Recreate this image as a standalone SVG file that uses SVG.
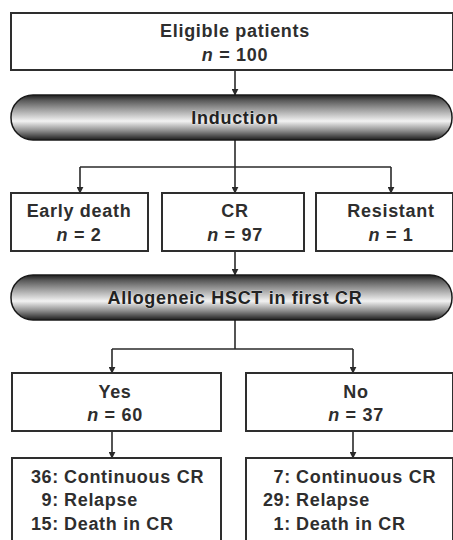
<svg xmlns="http://www.w3.org/2000/svg" width="453" height="540" viewBox="0 0 453 540">
<defs>
<linearGradient id="metal" x1="0" y1="0" x2="0" y2="1">
<stop offset="0" stop-color="#1e1e1e"/>
<stop offset="0.12" stop-color="#5a5a5a"/>
<stop offset="0.35" stop-color="#a8a8a8"/>
<stop offset="0.58" stop-color="#f2f2f2"/>
<stop offset="0.8" stop-color="#8a8a8a"/>
<stop offset="1" stop-color="#1e1e1e"/>
</linearGradient>
<marker id="arr" viewBox="0 0 10 10" refX="9" refY="5" markerWidth="7" markerHeight="7" markerUnits="userSpaceOnUse" orient="auto">
<path d="M0,0 L10,5 L0,10 z" fill="#2a2a2a"/>
</marker>
</defs>
<style>
.box{fill:#fff;stroke:#2e2e2e;stroke-width:2}
.pill{fill:url(#metal);stroke:#1a1a1a;stroke-width:1.5}
text{font-family:"Liberation Sans",Arial,sans-serif;font-weight:bold;font-size:18px;fill:#2e2e2e;letter-spacing:0.7px}
.c{text-anchor:middle}
.e{text-anchor:end}
.pt{fill:#222;stroke:#eee;stroke-width:0.6;paint-order:stroke}
.ln{fill:none;stroke:#2a2a2a;stroke-width:1.6}
</style>
<rect width="453" height="540" fill="#fff"/>
<g id="connectors">
<path class="ln" d="M235,70 V95" marker-end="url(#arr)"/>
<path class="ln" d="M235,140 V167"/>
<path class="ln" d="M80,167 H391"/>
<path class="ln" d="M80,167 V193" marker-end="url(#arr)"/>
<path class="ln" d="M235,167 V193" marker-end="url(#arr)"/>
<path class="ln" d="M391,167 V193" marker-end="url(#arr)"/>
<path class="ln" d="M235,251 V275" marker-end="url(#arr)"/>
<path class="ln" d="M235,320 V349"/>
<path class="ln" d="M112,349 H353"/>
<path class="ln" d="M112,349 V373" marker-end="url(#arr)"/>
<path class="ln" d="M353,349 V373" marker-end="url(#arr)"/>
<path class="ln" d="M112,431 V458" marker-end="url(#arr)"/>
<path class="ln" d="M353,431 V458" marker-end="url(#arr)"/>
</g>
<g id="eligible">
<rect class="box" x="11" y="13" width="442" height="57"/>
<text class="c" x="235" y="37">Eligible patients</text>
<text class="c" x="235" y="61"><tspan font-style="italic">n</tspan> = 100</text>
</g>
<g id="induction">
<rect class="pill" x="11" y="95" width="441" height="45" rx="22" ry="22"/>
<text class="c pt" x="235" y="124">Induction</text>
</g>
<g id="early-death">
<rect class="box" x="11" y="193" width="137" height="58"/>
<text class="c" x="79" y="217">Early death</text>
<text class="c" x="79" y="241"><tspan font-style="italic">n</tspan> = 2</text>
</g>
<g id="cr">
<rect class="box" x="162" y="193" width="142" height="58"/>
<text class="c" x="235" y="217">CR</text>
<text class="c" x="235" y="241"><tspan font-style="italic">n</tspan> = 97</text>
</g>
<g id="resistant">
<rect class="box" x="316" y="193" width="137" height="58"/>
<text class="c" x="391" y="217">Resistant</text>
<text class="c" x="391" y="241"><tspan font-style="italic">n</tspan> = 1</text>
</g>
<g id="hsct">
<rect class="pill" x="11" y="275" width="441" height="45" rx="22" ry="22"/>
<text class="c pt" x="235" y="304">Allogeneic HSCT in first CR</text>
</g>
<g id="yes">
<rect class="box" x="12" y="373" width="209" height="58"/>
<text class="c" x="115" y="398">Yes</text>
<text class="c" x="115" y="421"><tspan font-style="italic">n</tspan> = 60</text>
</g>
<g id="no">
<rect class="box" x="246" y="373" width="207" height="58"/>
<text class="c" x="356" y="398">No</text>
<text class="c" x="356" y="421"><tspan font-style="italic">n</tspan> = 37</text>
</g>
<g id="yes-outcome">
<rect class="box" x="12" y="458" width="209" height="90"/>
<text class="e" x="59" y="483">36:</text><text x="64" y="483">Continuous CR</text>
<text class="e" x="59" y="506">9:</text><text x="64" y="506">Relapse</text>
<text class="e" x="59" y="530">15:</text><text x="64" y="530">Death in CR</text>
</g>
<g id="no-outcome">
<rect class="box" x="246" y="458" width="207" height="90"/>
<text class="e" x="291" y="483">7:</text><text x="296" y="483">Continuous CR</text>
<text class="e" x="291" y="506">29:</text><text x="296" y="506">Relapse</text>
<text class="e" x="291" y="530">1:</text><text x="296" y="530">Death in CR</text>
</g>
</svg>
